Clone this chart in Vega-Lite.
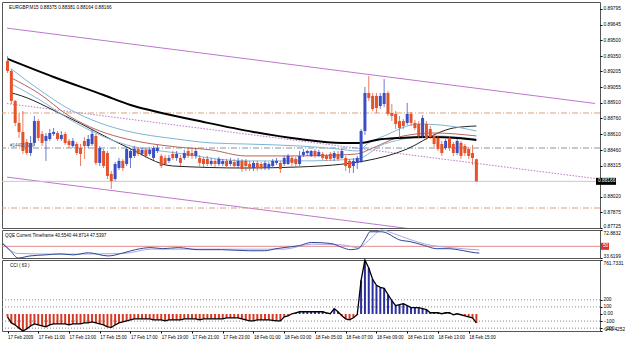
{
  "$schema": "https://vega.github.io/schema/vega-lite/v6.json",
  "padding": {"left": 0, "top": 1, "right": 0, "bottom": 0},
  "background": "white",
  "spacing": 2,
  "bounds": "flush",
  "config": {
    "view": {"stroke": "#555555", "strokeWidth": 1},
    "axis": {"labelFont": "Liberation Sans", "labelFontSize": 4.8, "grid": false, "domain": false, "tickSize": 2, "tickColor": "#000000", "labelColor": "#000000", "labelPadding": 1, "labelOverlap": false},
    "axisY": {"labelFlush": true},
    "axisX": {"labelFlush": false},
    "text": {"font": "Liberation Sans"}
  },
  "datasets": {
    "candles": [
      {"t":"2009-02-17T09:00","o":0.89304,"h":0.89351,"l":0.89190,"c":0.89209,"cci":-40},
      {"t":"2009-02-17T09:15","o":0.89209,"h":0.89228,"l":0.88897,"c":0.88926,"cci":-126},
      {"t":"2009-02-17T09:30","o":0.88926,"h":0.88935,"l":0.88689,"c":0.88718,"cci":-155},
      {"t":"2009-02-17T09:45","o":0.88718,"h":0.88812,"l":0.88576,"c":0.88633,"cci":-200},
      {"t":"2009-02-17T10:00","o":0.88633,"h":0.88831,"l":0.88425,"c":0.88453,"cci":-240.4252},
      {"t":"2009-02-17T10:15","o":0.88538,"h":0.88566,"l":0.88415,"c":0.88434,"cci":-210},
      {"t":"2009-02-17T10:30","o":0.88434,"h":0.88595,"l":0.88406,"c":0.88529,"cci":-169},
      {"t":"2009-02-17T10:45","o":0.88529,"h":0.88784,"l":0.88500,"c":0.88736,"cci":-140},
      {"t":"2009-02-17T11:00","o":0.88736,"h":0.88755,"l":0.88548,"c":0.88576,"cci":-155},
      {"t":"2009-02-17T11:15","o":0.88614,"h":0.88642,"l":0.88500,"c":0.88529,"cci":-169},
      {"t":"2009-02-17T11:30","o":0.88548,"h":0.88623,"l":0.88359,"c":0.88595,"cci":-183},
      {"t":"2009-02-17T11:45","o":0.88566,"h":0.88661,"l":0.88548,"c":0.88623,"cci":-155},
      {"t":"2009-02-17T12:00","o":0.88614,"h":0.88670,"l":0.88595,"c":0.88633,"cci":-140},
      {"t":"2009-02-17T12:15","o":0.88623,"h":0.88642,"l":0.88548,"c":0.88566,"cci":-140},
      {"t":"2009-02-17T12:30","o":0.88566,"h":0.88642,"l":0.88548,"c":0.88604,"cci":-140},
      {"t":"2009-02-17T12:45","o":0.88614,"h":0.88633,"l":0.88510,"c":0.88529,"cci":-140},
      {"t":"2009-02-17T13:00","o":0.88548,"h":0.88566,"l":0.88481,"c":0.88510,"cci":-155},
      {"t":"2009-02-17T13:15","o":0.88500,"h":0.88576,"l":0.88481,"c":0.88548,"cci":-140},
      {"t":"2009-02-17T13:30","o":0.88519,"h":0.88538,"l":0.88415,"c":0.88434,"cci":-140},
      {"t":"2009-02-17T13:45","o":0.88481,"h":0.88519,"l":0.88311,"c":0.88425,"cci":-140},
      {"t":"2009-02-17T14:00","o":0.88548,"h":0.88585,"l":0.88378,"c":0.88500,"cci":-126},
      {"t":"2009-02-17T14:15","o":0.88500,"h":0.88604,"l":0.88481,"c":0.88566,"cci":-126},
      {"t":"2009-02-17T14:30","o":0.88519,"h":0.88661,"l":0.88500,"c":0.88614,"cci":-112},
      {"t":"2009-02-17T14:45","o":0.88595,"h":0.88614,"l":0.88321,"c":0.88340,"cci":-126},
      {"t":"2009-02-17T15:00","o":0.88340,"h":0.88500,"l":0.88311,"c":0.88481,"cci":-140},
      {"t":"2009-02-17T15:15","o":0.88453,"h":0.88472,"l":0.88292,"c":0.88311,"cci":-155},
      {"t":"2009-02-17T15:30","o":0.88434,"h":0.88453,"l":0.88188,"c":0.88217,"cci":-183},
      {"t":"2009-02-17T15:45","o":0.88236,"h":0.88264,"l":0.88094,"c":0.88169,"cci":-190},
      {"t":"2009-02-17T16:00","o":0.88188,"h":0.88349,"l":0.88169,"c":0.88330,"cci":-155},
      {"t":"2009-02-17T16:15","o":0.88292,"h":0.88387,"l":0.88273,"c":0.88359,"cci":-126},
      {"t":"2009-02-17T16:30","o":0.88359,"h":0.88378,"l":0.88264,"c":0.88292,"cci":-112},
      {"t":"2009-02-17T16:45","o":0.88330,"h":0.88491,"l":0.88311,"c":0.88472,"cci":-97},
      {"t":"2009-02-17T17:00","o":0.88387,"h":0.88472,"l":0.88292,"c":0.88453,"cci":-83},
      {"t":"2009-02-17T17:15","o":0.88406,"h":0.88500,"l":0.88387,"c":0.88472,"cci":-69},
      {"t":"2009-02-17T17:30","o":0.88472,"h":0.88491,"l":0.88406,"c":0.88425,"cci":-69},
      {"t":"2009-02-17T17:45","o":0.88425,"h":0.88491,"l":0.88406,"c":0.88463,"cci":-69},
      {"t":"2009-02-17T18:00","o":0.88463,"h":0.88481,"l":0.88387,"c":0.88406,"cci":-69},
      {"t":"2009-02-17T18:15","o":0.88425,"h":0.88491,"l":0.88406,"c":0.88463,"cci":-69},
      {"t":"2009-02-17T18:30","o":0.88387,"h":0.88500,"l":0.88368,"c":0.88481,"cci":-83},
      {"t":"2009-02-17T18:45","o":0.88453,"h":0.88510,"l":0.88434,"c":0.88481,"cci":-83},
      {"t":"2009-02-17T19:00","o":0.88406,"h":0.88425,"l":0.88292,"c":0.88311,"cci":-83},
      {"t":"2009-02-17T19:15","o":0.88387,"h":0.88415,"l":0.88311,"c":0.88330,"cci":-97},
      {"t":"2009-02-17T19:30","o":0.88359,"h":0.88415,"l":0.88340,"c":0.88387,"cci":-83},
      {"t":"2009-02-17T19:45","o":0.88425,"h":0.88453,"l":0.88368,"c":0.88387,"cci":-83},
      {"t":"2009-02-17T20:00","o":0.88387,"h":0.88453,"l":0.88359,"c":0.88425,"cci":-83},
      {"t":"2009-02-17T20:15","o":0.88387,"h":0.88415,"l":0.88311,"c":0.88340,"cci":-83},
      {"t":"2009-02-17T20:30","o":0.88387,"h":0.88463,"l":0.88368,"c":0.88434,"cci":-69},
      {"t":"2009-02-17T20:45","o":0.88453,"h":0.88481,"l":0.88387,"c":0.88406,"cci":-69},
      {"t":"2009-02-17T21:00","o":0.88434,"h":0.88472,"l":0.88378,"c":0.88406,"cci":-69},
      {"t":"2009-02-17T21:15","o":0.88406,"h":0.88481,"l":0.88378,"c":0.88453,"cci":-69},
      {"t":"2009-02-17T21:30","o":0.88387,"h":0.88415,"l":0.88311,"c":0.88340,"cci":-83},
      {"t":"2009-02-17T21:45","o":0.88378,"h":0.88396,"l":0.88302,"c":0.88330,"cci":-69},
      {"t":"2009-02-17T22:00","o":0.88378,"h":0.88406,"l":0.88311,"c":0.88330,"cci":-69},
      {"t":"2009-02-17T22:15","o":0.88330,"h":0.88387,"l":0.88311,"c":0.88359,"cci":-69},
      {"t":"2009-02-17T22:30","o":0.88359,"h":0.88378,"l":0.88302,"c":0.88330,"cci":-69},
      {"t":"2009-02-17T22:45","o":0.88330,"h":0.88396,"l":0.88311,"c":0.88378,"cci":-69},
      {"t":"2009-02-17T23:00","o":0.88330,"h":0.88378,"l":0.88311,"c":0.88359,"cci":-69},
      {"t":"2009-02-17T23:15","o":0.88359,"h":0.88378,"l":0.88292,"c":0.88311,"cci":-54},
      {"t":"2009-02-17T23:30","o":0.88330,"h":0.88387,"l":0.88311,"c":0.88359,"cci":-54},
      {"t":"2009-02-17T23:45","o":0.88349,"h":0.88378,"l":0.88292,"c":0.88311,"cci":-54},
      {"t":"2009-02-18T00:00","o":0.88311,"h":0.88387,"l":0.88292,"c":0.88359,"cci":-54},
      {"t":"2009-02-18T00:15","o":0.88359,"h":0.88378,"l":0.88255,"c":0.88283,"cci":-69},
      {"t":"2009-02-18T00:30","o":0.88359,"h":0.88378,"l":0.88264,"c":0.88311,"cci":-83},
      {"t":"2009-02-18T00:45","o":0.88330,"h":0.88359,"l":0.88264,"c":0.88292,"cci":-97},
      {"t":"2009-02-18T01:00","o":0.88292,"h":0.88359,"l":0.88264,"c":0.88340,"cci":-97},
      {"t":"2009-02-18T01:15","o":0.88340,"h":0.88359,"l":0.88264,"c":0.88292,"cci":-83},
      {"t":"2009-02-18T01:30","o":0.88330,"h":0.88349,"l":0.88273,"c":0.88292,"cci":-83},
      {"t":"2009-02-18T01:45","o":0.88292,"h":0.88359,"l":0.88273,"c":0.88340,"cci":-83},
      {"t":"2009-02-18T02:00","o":0.88292,"h":0.88349,"l":0.88273,"c":0.88330,"cci":-83},
      {"t":"2009-02-18T02:15","o":0.88311,"h":0.88378,"l":0.88292,"c":0.88359,"cci":-90},
      {"t":"2009-02-18T02:30","o":0.88340,"h":0.88387,"l":0.88321,"c":0.88359,"cci":-97},
      {"t":"2009-02-18T02:45","o":0.88340,"h":0.88359,"l":0.88245,"c":0.88283,"cci":-97},
      {"t":"2009-02-18T03:00","o":0.88330,"h":0.88406,"l":0.88311,"c":0.88387,"cci":-40},
      {"t":"2009-02-18T03:15","o":0.88330,"h":0.88425,"l":0.88321,"c":0.88406,"cci":-26},
      {"t":"2009-02-18T03:30","o":0.88387,"h":0.88406,"l":0.88311,"c":0.88340,"cci":3},
      {"t":"2009-02-18T03:45","o":0.88378,"h":0.88396,"l":0.88311,"c":0.88330,"cci":17},
      {"t":"2009-02-18T04:00","o":0.88330,"h":0.88453,"l":0.88311,"c":0.88406,"cci":31},
      {"t":"2009-02-18T04:15","o":0.88415,"h":0.88472,"l":0.88396,"c":0.88444,"cci":31},
      {"t":"2009-02-18T04:30","o":0.88434,"h":0.88463,"l":0.88406,"c":0.88453,"cci":31},
      {"t":"2009-02-18T04:45","o":0.88406,"h":0.88463,"l":0.88396,"c":0.88453,"cci":31},
      {"t":"2009-02-18T05:00","o":0.88453,"h":0.88472,"l":0.88387,"c":0.88406,"cci":31},
      {"t":"2009-02-18T05:15","o":0.88406,"h":0.88463,"l":0.88396,"c":0.88444,"cci":31},
      {"t":"2009-02-18T05:30","o":0.88425,"h":0.88444,"l":0.88368,"c":0.88387,"cci":31},
      {"t":"2009-02-18T05:45","o":0.88406,"h":0.88425,"l":0.88359,"c":0.88378,"cci":17},
      {"t":"2009-02-18T06:00","o":0.88425,"h":0.88444,"l":0.88359,"c":0.88378,"cci":3},
      {"t":"2009-02-18T06:15","o":0.88387,"h":0.88453,"l":0.88359,"c":0.88434,"cci":74},
      {"t":"2009-02-18T06:30","o":0.88425,"h":0.88453,"l":0.88359,"c":0.88378,"cci":31},
      {"t":"2009-02-18T06:45","o":0.88387,"h":0.88472,"l":0.88378,"c":0.88453,"cci":-26},
      {"t":"2009-02-18T07:00","o":0.88387,"h":0.88406,"l":0.88264,"c":0.88311,"cci":-69},
      {"t":"2009-02-18T07:15","o":0.88359,"h":0.88378,"l":0.88245,"c":0.88292,"cci":-83},
      {"t":"2009-02-18T07:30","o":0.88311,"h":0.88387,"l":0.88245,"c":0.88359,"cci":-54},
      {"t":"2009-02-18T07:45","o":0.88340,"h":0.88406,"l":0.88283,"c":0.88387,"cci":-11},
      {"t":"2009-02-18T08:00","o":0.88359,"h":0.88661,"l":0.88340,"c":0.88642,"cci":475},
      {"t":"2009-02-18T08:15","o":0.88642,"h":0.89058,"l":0.88604,"c":0.89001,"cci":761.7331},
      {"t":"2009-02-18T08:30","o":0.89001,"h":0.89162,"l":0.88926,"c":0.88954,"cci":648},
      {"t":"2009-02-18T08:45","o":0.88973,"h":0.89001,"l":0.88831,"c":0.88850,"cci":490},
      {"t":"2009-02-18T09:00","o":0.88973,"h":0.89001,"l":0.88812,"c":0.88859,"cci":404},
      {"t":"2009-02-18T09:15","o":0.88878,"h":0.89001,"l":0.88850,"c":0.88973,"cci":375},
      {"t":"2009-02-18T09:30","o":0.88897,"h":0.89133,"l":0.88869,"c":0.89001,"cci":361},
      {"t":"2009-02-18T09:45","o":0.89001,"h":0.89020,"l":0.88784,"c":0.88803,"cci":275},
      {"t":"2009-02-18T10:00","o":0.88812,"h":0.88897,"l":0.88736,"c":0.88784,"cci":189},
      {"t":"2009-02-18T10:15","o":0.88803,"h":0.88831,"l":0.88661,"c":0.88708,"cci":117},
      {"t":"2009-02-18T10:30","o":0.88736,"h":0.88784,"l":0.88576,"c":0.88670,"cci":132},
      {"t":"2009-02-18T10:45","o":0.88736,"h":0.88755,"l":0.88661,"c":0.88689,"cci":146},
      {"t":"2009-02-18T11:00","o":0.88718,"h":0.88907,"l":0.88699,"c":0.88803,"cci":117},
      {"t":"2009-02-18T11:15","o":0.88803,"h":0.88822,"l":0.88689,"c":0.88718,"cci":89},
      {"t":"2009-02-18T11:30","o":0.88718,"h":0.88746,"l":0.88651,"c":0.88670,"cci":89},
      {"t":"2009-02-18T11:45","o":0.88708,"h":0.88736,"l":0.88576,"c":0.88595,"cci":89},
      {"t":"2009-02-18T12:00","o":0.88595,"h":0.88793,"l":0.88576,"c":0.88765,"cci":74},
      {"t":"2009-02-18T12:15","o":0.88708,"h":0.88736,"l":0.88557,"c":0.88576,"cci":60},
      {"t":"2009-02-18T12:30","o":0.88661,"h":0.88689,"l":0.88566,"c":0.88585,"cci":17},
      {"t":"2009-02-18T12:45","o":0.88595,"h":0.88614,"l":0.88491,"c":0.88519,"cci":17},
      {"t":"2009-02-18T13:00","o":0.88576,"h":0.88595,"l":0.88453,"c":0.88472,"cci":17},
      {"t":"2009-02-18T13:15","o":0.88519,"h":0.88548,"l":0.88406,"c":0.88434,"cci":3},
      {"t":"2009-02-18T13:30","o":0.88481,"h":0.88566,"l":0.88463,"c":0.88548,"cci":17},
      {"t":"2009-02-18T13:45","o":0.88576,"h":0.88595,"l":0.88453,"c":0.88481,"cci":17},
      {"t":"2009-02-18T14:00","o":0.88519,"h":0.88538,"l":0.88406,"c":0.88434,"cci":-11},
      {"t":"2009-02-18T14:15","o":0.88434,"h":0.88566,"l":0.88415,"c":0.88548,"cci":3},
      {"t":"2009-02-18T14:30","o":0.88529,"h":0.88548,"l":0.88378,"c":0.88406,"cci":-11},
      {"t":"2009-02-18T14:45","o":0.88500,"h":0.88519,"l":0.88406,"c":0.88434,"cci":-26},
      {"t":"2009-02-18T15:00","o":0.88472,"h":0.88491,"l":0.88378,"c":0.88406,"cci":-40},
      {"t":"2009-02-18T15:15","o":0.88434,"h":0.88510,"l":0.88321,"c":0.88387,"cci":-54},
      {"t":"2009-02-18T15:30","o":0.88375,"h":0.88381,"l":0.88164,"c":0.88166,"cci":-126}
    ],
    "trend": [
      {"name":"upper","t1":"2009-02-17T08:58","p1":0.89614,"t2":"2009-02-18T23:13","p2":0.88902},
      {"name":"lower","t1":"2009-02-17T08:58","p1":0.88206,"t2":"2009-02-18T23:13","p2":0.87494},
      {"name":"mid","t1":"2009-02-17T08:58","p1":0.88901,"t2":"2009-02-18T23:13","p2":0.88193}
    ],
    "levels": [
      {"name":"tp","p":0.88812},
      {"name":"sl","p":0.87914},
      {"name":"entry","p":0.88481},
      {"name":"bid","p":0.88166}
    ],
    "ma": [
      {"ma":"slow","t":"2009-02-17T09:00","v":0.89323},
      {"ma":"slow","t":"2009-02-17T12:00","v":0.89152},
      {"ma":"slow","t":"2009-02-17T15:15","v":0.88982},
      {"ma":"slow","t":"2009-02-17T17:00","v":0.88888},
      {"ma":"slow","t":"2009-02-17T18:30","v":0.88831},
      {"ma":"slow","t":"2009-02-17T21:45","v":0.88727},
      {"ma":"slow","t":"2009-02-18T01:00","v":0.88633},
      {"ma":"slow","t":"2009-02-18T04:00","v":0.88566},
      {"ma":"slow","t":"2009-02-18T06:45","v":0.88529},
      {"ma":"slow","t":"2009-02-18T08:00","v":0.88529},
      {"ma":"slow","t":"2009-02-18T09:00","v":0.88557},
      {"ma":"slow","t":"2009-02-18T10:30","v":0.88576},
      {"ma":"slow","t":"2009-02-18T12:30","v":0.88585},
      {"ma":"slow","t":"2009-02-18T14:15","v":0.88576},
      {"ma":"slow","t":"2009-02-18T15:30","v":0.88557},
      {"ma":"env","t":"2009-02-17T09:15","v":0.89001},
      {"ma":"env","t":"2009-02-17T09:30","v":0.88992},
      {"ma":"env","t":"2009-02-17T12:45","v":0.88784},
      {"ma":"env","t":"2009-02-17T16:45","v":0.88491},
      {"ma":"env","t":"2009-02-17T19:45","v":0.88311},
      {"ma":"env","t":"2009-02-18T00:30","v":0.88292},
      {"ma":"env","t":"2009-02-18T04:00","v":0.88302},
      {"ma":"env","t":"2009-02-18T08:15","v":0.88359},
      {"ma":"env","t":"2009-02-18T11:00","v":0.88472},
      {"ma":"env","t":"2009-02-18T13:00","v":0.88623},
      {"ma":"env","t":"2009-02-18T14:00","v":0.88670},
      {"ma":"env","t":"2009-02-18T15:30","v":0.88689},
      {"ma":"fast","t":"2009-02-17T09:15","v":0.89228},
      {"ma":"fast","t":"2009-02-17T11:00","v":0.89039},
      {"ma":"fast","t":"2009-02-17T13:00","v":0.88850},
      {"ma":"fast","t":"2009-02-17T15:00","v":0.88718},
      {"ma":"fast","t":"2009-02-17T16:45","v":0.88642},
      {"ma":"fast","t":"2009-02-17T20:00","v":0.88566},
      {"ma":"fast","t":"2009-02-17T22:15","v":0.88529},
      {"ma":"fast","t":"2009-02-18T00:30","v":0.88519},
      {"ma":"fast","t":"2009-02-18T04:00","v":0.88500},
      {"ma":"fast","t":"2009-02-18T06:30","v":0.88472},
      {"ma":"fast","t":"2009-02-18T07:45","v":0.88453},
      {"ma":"fast","t":"2009-02-18T08:30","v":0.88529},
      {"ma":"fast","t":"2009-02-18T09:30","v":0.88595},
      {"ma":"fast","t":"2009-02-18T11:45","v":0.88708},
      {"ma":"fast","t":"2009-02-18T13:45","v":0.88689},
      {"ma":"fast","t":"2009-02-18T15:30","v":0.88642},
      {"ma":"mid","t":"2009-02-17T09:15","v":0.89143},
      {"ma":"mid","t":"2009-02-17T11:00","v":0.89001},
      {"ma":"mid","t":"2009-02-17T13:00","v":0.88784},
      {"ma":"mid","t":"2009-02-17T15:00","v":0.88642},
      {"ma":"mid","t":"2009-02-17T16:45","v":0.88566},
      {"ma":"mid","t":"2009-02-17T20:00","v":0.88491},
      {"ma":"mid","t":"2009-02-17T22:15","v":0.88463},
      {"ma":"mid","t":"2009-02-18T00:30","v":0.88406},
      {"ma":"mid","t":"2009-02-18T04:00","v":0.88406},
      {"ma":"mid","t":"2009-02-18T06:30","v":0.88415},
      {"ma":"mid","t":"2009-02-18T07:45","v":0.88425},
      {"ma":"mid","t":"2009-02-18T08:45","v":0.88481},
      {"ma":"mid","t":"2009-02-18T10:45","v":0.88595},
      {"ma":"mid","t":"2009-02-18T12:45","v":0.88623},
      {"ma":"mid","t":"2009-02-18T15:30","v":0.88595},
      {"ma":"band","t":"2009-02-17T09:15","v":0.89086},
      {"ma":"band","t":"2009-02-17T11:00","v":0.88945},
      {"ma":"band","t":"2009-02-17T13:00","v":0.88755},
      {"ma":"band","t":"2009-02-17T15:00","v":0.88604},
      {"ma":"band","t":"2009-02-17T16:45","v":0.88510},
      {"ma":"band","t":"2009-02-17T20:00","v":0.88434},
      {"ma":"band","t":"2009-02-18T00:30","v":0.88359},
      {"ma":"band","t":"2009-02-18T04:00","v":0.88359},
      {"ma":"band","t":"2009-02-18T07:45","v":0.88378},
      {"ma":"band","t":"2009-02-18T09:30","v":0.88519},
      {"ma":"band","t":"2009-02-18T12:45","v":0.88595},
      {"ma":"band","t":"2009-02-18T15:30","v":0.88566}
    ],
    "qqe": [
      {"line":"sig","t":"2009-02-17T09:00","v":55},
      {"line":"sig","t":"2009-02-17T10:00","v":40},
      {"line":"sig","t":"2009-02-17T12:45","v":39},
      {"line":"sig","t":"2009-02-17T16:45","v":40},
      {"line":"sig","t":"2009-02-17T18:30","v":46},
      {"line":"sig","t":"2009-02-17T23:00","v":46},
      {"line":"sig","t":"2009-02-18T03:00","v":46},
      {"line":"sig","t":"2009-02-18T04:45","v":53},
      {"line":"sig","t":"2009-02-18T06:45","v":52},
      {"line":"sig","t":"2009-02-18T07:45","v":48},
      {"line":"sig","t":"2009-02-18T08:30","v":60},
      {"line":"sig","t":"2009-02-18T09:15","v":72.8832},
      {"line":"sig","t":"2009-02-18T10:00","v":68},
      {"line":"sig","t":"2009-02-18T11:00","v":60},
      {"line":"sig","t":"2009-02-18T12:30","v":51},
      {"line":"sig","t":"2009-02-18T13:45","v":48},
      {"line":"sig","t":"2009-02-18T15:30","v":44.8714},
      {"line":"qqe","t":"2009-02-17T09:00","v":53.97},
      {"line":"qqe","t":"2009-02-17T09:30","v":43.8},
      {"line":"qqe","t":"2009-02-17T10:00","v":33.62},
      {"line":"qqe","t":"2009-02-17T10:45","v":36.5},
      {"line":"qqe","t":"2009-02-17T11:45","v":38.0},
      {"line":"qqe","t":"2009-02-17T12:45","v":39.4},
      {"line":"qqe","t":"2009-02-17T13:30","v":38.0},
      {"line":"qqe","t":"2009-02-17T14:30","v":40.9},
      {"line":"qqe","t":"2009-02-17T15:45","v":36.5},
      {"line":"qqe","t":"2009-02-17T16:45","v":40.9},
      {"line":"qqe","t":"2009-02-17T17:30","v":45.3},
      {"line":"qqe","t":"2009-02-17T18:30","v":48.2},
      {"line":"qqe","t":"2009-02-17T19:15","v":46.7},
      {"line":"qqe","t":"2009-02-17T20:15","v":48.2},
      {"line":"qqe","t":"2009-02-17T21:30","v":45.3},
      {"line":"qqe","t":"2009-02-17T23:00","v":45.3},
      {"line":"qqe","t":"2009-02-18T00:45","v":43.8},
      {"line":"qqe","t":"2009-02-18T01:45","v":43.8},
      {"line":"qqe","t":"2009-02-18T02:30","v":46.7},
      {"line":"qqe","t":"2009-02-18T03:00","v":48.2},
      {"line":"qqe","t":"2009-02-18T04:00","v":51.1},
      {"line":"qqe","t":"2009-02-18T04:45","v":55.4},
      {"line":"qqe","t":"2009-02-18T06:00","v":54.0},
      {"line":"qqe","t":"2009-02-18T06:45","v":48.2},
      {"line":"qqe","t":"2009-02-18T07:15","v":45.3},
      {"line":"qqe","t":"2009-02-18T07:45","v":46.7},
      {"line":"qqe","t":"2009-02-18T08:15","v":62.0},
      {"line":"qqe","t":"2009-02-18T08:30","v":70.4},
      {"line":"qqe","t":"2009-02-18T09:15","v":70.4},
      {"line":"qqe","t":"2009-02-18T10:30","v":58.3},
      {"line":"qqe","t":"2009-02-18T11:00","v":56.9},
      {"line":"qqe","t":"2009-02-18T12:00","v":51.1},
      {"line":"qqe","t":"2009-02-18T12:45","v":46.7},
      {"line":"qqe","t":"2009-02-18T13:30","v":46.7},
      {"line":"qqe","t":"2009-02-18T14:30","v":43.8},
      {"line":"qqe","t":"2009-02-18T15:15","v":40.9},
      {"line":"qqe","t":"2009-02-18T15:30","v":40.554}
    ],
    "cciLevels": [{"lv":200},{"lv":100},{"lv":-100},{"lv":-200}]
  },
  "vconcat": [
    {
      "width": 598,
      "height": 226,
      "layer": [
        {
          "data": {"name": "trend"},
          "transform": [{"filter": "datum.name != 'mid'"}],
          "mark": {"type": "rule", "stroke": "#BC78CC", "strokeWidth": 1, "clip": true},
          "encoding": {
            "x": {"field": "t1", "type": "temporal", "scale": {"domain": [{"year":2009,"month":2,"date":17,"hours":8,"minutes":58},{"year":2009,"month":2,"date":18,"hours":23,"minutes":13}]}, "axis": null},
            "x2": {"field": "t2"},
            "y": {"field": "p1", "type": "quantitative", "scale": {"domain": [0.87725, 0.89861], "nice": false, "zero": false},
              "axis": {"orient": "right", "title": null, "values": [0.89795, 0.89645, 0.895, 0.8935, 0.89205, 0.89055, 0.8891, 0.8876, 0.8861, 0.8846, 0.88315, 0.8802, 0.87875, 0.87725], "format": ".5f"}},
            "y2": {"field": "p2"}
          }
        },
        {
          "data": {"name": "trend"},
          "transform": [{"filter": "datum.name == 'mid'"}],
          "mark": {"type": "rule", "stroke": "#BC78CC", "strokeWidth": 1, "strokeDash": [1.5, 1.5], "clip": true},
          "encoding": {
            "x": {"field": "t1", "type": "temporal", "scale": {"domain": [{"year":2009,"month":2,"date":17,"hours":8,"minutes":58},{"year":2009,"month":2,"date":18,"hours":23,"minutes":13}]}, "axis": null},
            "x2": {"field": "t2"},
            "y": {"field": "p1", "type": "quantitative", "scale": {"domain": [0.87725, 0.89861], "nice": false, "zero": false},
              "axis": {"orient": "right", "title": null, "values": [0.89795, 0.89645, 0.895, 0.8935, 0.89205, 0.89055, 0.8891, 0.8876, 0.8861, 0.8846, 0.88315, 0.8802, 0.87875, 0.87725], "format": ".5f"}},
            "y2": {"field": "p2"}
          }
        },
        {
          "data": {"name": "levels"},
          "transform": [{"filter": "datum.name == 'tp' || datum.name == 'sl'"}],
          "mark": {"type": "rule", "stroke": "#D9A27C", "strokeWidth": 1, "strokeDash": [6, 2, 1, 2]},
          "encoding": {
            "y": {"field": "p", "type": "quantitative", "scale": {"domain": [0.87725, 0.89861], "nice": false, "zero": false},
              "axis": {"orient": "right", "title": null, "values": [0.89795, 0.89645, 0.895, 0.8935, 0.89205, 0.89055, 0.8891, 0.8876, 0.8861, 0.8846, 0.88315, 0.8802, 0.87875, 0.87725], "format": ".5f"}}
          }
        },
        {
          "data": {"name": "levels"},
          "transform": [{"filter": "datum.name == 'entry'"}],
          "mark": {"type": "rule", "stroke": "#8494A8", "strokeWidth": 1, "strokeDash": [6, 2, 1, 2]},
          "encoding": {
            "y": {"field": "p", "type": "quantitative", "scale": {"domain": [0.87725, 0.89861], "nice": false, "zero": false},
              "axis": {"orient": "right", "title": null, "values": [0.89795, 0.89645, 0.895, 0.8935, 0.89205, 0.89055, 0.8891, 0.8876, 0.8861, 0.8846, 0.88315, 0.8802, 0.87875, 0.87725], "format": ".5f"}}
          }
        },
        {
          "data": {"name": "levels"},
          "transform": [{"filter": "datum.name == 'bid'"}],
          "mark": {"type": "rule", "stroke": "#C8C8C8", "strokeWidth": 1},
          "encoding": {
            "y": {"field": "p", "type": "quantitative", "scale": {"domain": [0.87725, 0.89861], "nice": false, "zero": false},
              "axis": {"orient": "right", "title": null, "values": [0.89795, 0.89645, 0.895, 0.8935, 0.89205, 0.89055, 0.8891, 0.8876, 0.8861, 0.8846, 0.88315, 0.8802, 0.87875, 0.87725], "format": ".5f"}}
          }
        },
        {
          "data": {"name": "ma"},
          "transform": [{"filter": "datum.ma != 'slow'"}],
          "mark": {"type": "line", "strokeWidth": 1, "interpolate": "monotone"},
          "encoding": {
            "x": {"field": "t", "type": "temporal", "scale": {"domain": [{"year":2009,"month":2,"date":17,"hours":8,"minutes":58},{"year":2009,"month":2,"date":18,"hours":23,"minutes":13}]}, "axis": null},
            "y": {"field": "v", "type": "quantitative", "scale": {"domain": [0.87725, 0.89861], "nice": false, "zero": false},
              "axis": {"orient": "right", "title": null, "values": [0.89795, 0.89645, 0.895, 0.8935, 0.89205, 0.89055, 0.8891, 0.8876, 0.8861, 0.8846, 0.88315, 0.8802, 0.87875, 0.87725], "format": ".5f"}},
            "color": {"field": "ma", "type": "nominal", "scale": {"domain": ["fast", "mid", "band", "env"], "range": ["#7DB4D6", "#B5665C", "#86BAD8", "#222222"]}, "legend": null}
          }
        },
        {
          "data": {"name": "ma"},
          "transform": [{"filter": "datum.ma == 'slow'"}],
          "mark": {"type": "line", "strokeWidth": 2, "color": "#000000", "interpolate": "monotone"},
          "encoding": {
            "x": {"field": "t", "type": "temporal", "scale": {"domain": [{"year":2009,"month":2,"date":17,"hours":8,"minutes":58},{"year":2009,"month":2,"date":18,"hours":23,"minutes":13}]}, "axis": null},
            "y": {"field": "v", "type": "quantitative", "scale": {"domain": [0.87725, 0.89861], "nice": false, "zero": false},
              "axis": {"orient": "right", "title": null, "values": [0.89795, 0.89645, 0.895, 0.8935, 0.89205, 0.89055, 0.8891, 0.8876, 0.8861, 0.8846, 0.88315, 0.8802, 0.87875, 0.87725], "format": ".5f"}}
          }
        },
        {
          "data": {"name": "candles"},
          "mark": {"type": "rule", "strokeWidth": 1, "opacity": 0.75},
          "encoding": {
            "x": {"field": "t", "type": "temporal", "scale": {"domain": [{"year":2009,"month":2,"date":17,"hours":8,"minutes":58},{"year":2009,"month":2,"date":18,"hours":23,"minutes":13}]}, "axis": null},
            "y": {"field": "l", "type": "quantitative", "scale": {"domain": [0.87725, 0.89861], "nice": false, "zero": false},
              "axis": {"orient": "right", "title": null, "values": [0.89795, 0.89645, 0.895, 0.8935, 0.89205, 0.89055, 0.8891, 0.8876, 0.8861, 0.8846, 0.88315, 0.8802, 0.87875, 0.87725], "format": ".5f"}},
            "y2": {"field": "h"},
            "color": {"condition": {"test": "datum.c < datum.o", "value": "#E4532B"}, "value": "#3B4FC4"}
          }
        },
        {
          "data": {"name": "candles"},
          "mark": {"type": "bar", "size": 3},
          "encoding": {
            "x": {"field": "t", "type": "temporal", "scale": {"domain": [{"year":2009,"month":2,"date":17,"hours":8,"minutes":58},{"year":2009,"month":2,"date":18,"hours":23,"minutes":13}]}, "axis": null},
            "y": {"field": "o", "type": "quantitative", "scale": {"domain": [0.87725, 0.89861], "nice": false, "zero": false},
              "axis": {"orient": "right", "title": null, "values": [0.89795, 0.89645, 0.895, 0.8935, 0.89205, 0.89055, 0.8891, 0.8876, 0.8861, 0.8846, 0.88315, 0.8802, 0.87875, 0.87725], "format": ".5f"}},
            "y2": {"field": "c"},
            "color": {"condition": {"test": "datum.c < datum.o", "value": "#E4532B"}, "value": "#3B4FC4"}
          }
        },
        {
          "data": {"values": [{}]},
          "mark": {"type": "text", "align": "left", "baseline": "top", "dx": 2, "dy": 3, "fontSize": 4.7, "color": "#000000"},
          "encoding": {
            "x": {"datum": {"year":2009,"month":2,"date":17,"hours":8,"minutes":58}, "type": "temporal", "scale": {"domain": [{"year":2009,"month":2,"date":17,"hours":8,"minutes":58},{"year":2009,"month":2,"date":18,"hours":23,"minutes":13}]}, "axis": null},
            "y": {"datum": 0.89861, "type": "quantitative", "scale": {"domain": [0.87725, 0.89861], "nice": false, "zero": false},
              "axis": {"orient": "right", "title": null, "values": [0.89795, 0.89645, 0.895, 0.8935, 0.89205, 0.89055, 0.8891, 0.8876, 0.8861, 0.8846, 0.88315, 0.8802, 0.87875, 0.87725], "format": ".5f"}},
            "text": {"value": "EURGBP,M15  0.88375 0.88381 0.88164 0.88166"}
          }
        },
        {
          "data": {"values": [{}]},
          "mark": {"type": "text", "align": "left", "baseline": "bottom", "dx": 3, "dy": 0, "fontSize": 4.5, "color": "#555555"},
          "encoding": {
            "x": {"datum": {"year":2009,"month":2,"date":17,"hours":8,"minutes":58}, "type": "temporal", "scale": {"domain": [{"year":2009,"month":2,"date":17,"hours":8,"minutes":58},{"year":2009,"month":2,"date":18,"hours":23,"minutes":13}]}, "axis": null},
            "y": {"datum": 0.88481, "type": "quantitative", "scale": {"domain": [0.87725, 0.89861], "nice": false, "zero": false},
              "axis": {"orient": "right", "title": null, "values": [0.89795, 0.89645, 0.895, 0.8935, 0.89205, 0.89055, 0.8891, 0.8876, 0.8861, 0.8846, 0.88315, 0.8802, 0.87875, 0.87725], "format": ".5f"}},
            "text": {"value": "#14495 Sell"}
          }
        },
        {
          "data": {"values": [{}]},
          "mark": {"type": "rect", "color": "#000000", "xOffset": 1, "x2Offset": 21, "yOffset": -3.5, "y2Offset": 3.5},
          "encoding": {
            "x": {"datum": {"year":2009,"month":2,"date":18,"hours":23,"minutes":13}, "type": "temporal", "scale": {"domain": [{"year":2009,"month":2,"date":17,"hours":8,"minutes":58},{"year":2009,"month":2,"date":18,"hours":23,"minutes":13}]}, "axis": null},
            "x2": {"datum": {"year":2009,"month":2,"date":18,"hours":23,"minutes":13}},
            "y": {"datum": 0.88166, "type": "quantitative", "scale": {"domain": [0.87725, 0.89861], "nice": false, "zero": false},
              "axis": {"orient": "right", "title": null, "values": [0.89795, 0.89645, 0.895, 0.8935, 0.89205, 0.89055, 0.8891, 0.8876, 0.8861, 0.8846, 0.88315, 0.8802, 0.87875, 0.87725], "format": ".5f"}},
            "y2": {"datum": 0.88166}
          }
        },
        {
          "data": {"values": [{}]},
          "mark": {"type": "text", "align": "left", "baseline": "middle", "dx": 3, "fontSize": 4.8, "color": "#FFFFFF"},
          "encoding": {
            "x": {"datum": {"year":2009,"month":2,"date":18,"hours":23,"minutes":13}, "type": "temporal", "scale": {"domain": [{"year":2009,"month":2,"date":17,"hours":8,"minutes":58},{"year":2009,"month":2,"date":18,"hours":23,"minutes":13}]}, "axis": null},
            "y": {"datum": 0.88166, "type": "quantitative", "scale": {"domain": [0.87725, 0.89861], "nice": false, "zero": false},
              "axis": {"orient": "right", "title": null, "values": [0.89795, 0.89645, 0.895, 0.8935, 0.89205, 0.89055, 0.8891, 0.8876, 0.8861, 0.8846, 0.88315, 0.8802, 0.87875, 0.87725], "format": ".5f"}},
            "text": {"value": "0.88166"}
          }
        }
      ]
    },
    {
      "width": 598,
      "height": 28,
      "layer": [
        {
          "data": {"values": [{}]},
          "mark": {"type": "rule", "stroke": "#E28A8A", "strokeWidth": 1},
          "encoding": {
            "y": {"datum": 50, "type": "quantitative", "scale": {"domain": [33.6199, 72.8832], "nice": false, "zero": false},
              "axis": {"orient": "right", "title": null, "values": [72.8832, 33.6199], "format": ".4f"}}
          }
        },
        {
          "data": {"name": "qqe"},
          "transform": [{"filter": "datum.line == 'sig'"}],
          "mark": {"type": "line", "stroke": "#A8A8E6", "strokeWidth": 1, "interpolate": "monotone"},
          "encoding": {
            "x": {"field": "t", "type": "temporal", "scale": {"domain": [{"year":2009,"month":2,"date":17,"hours":8,"minutes":58},{"year":2009,"month":2,"date":18,"hours":23,"minutes":13}]}, "axis": null},
            "y": {"field": "v", "type": "quantitative", "scale": {"domain": [33.6199, 72.8832], "nice": false, "zero": false},
              "axis": {"orient": "right", "title": null, "values": [72.8832, 33.6199], "format": ".4f"}}
          }
        },
        {
          "data": {"name": "qqe"},
          "transform": [{"filter": "datum.line == 'qqe'"}],
          "mark": {"type": "line", "stroke": "#2C4795", "strokeWidth": 1, "interpolate": "monotone"},
          "encoding": {
            "x": {"field": "t", "type": "temporal", "scale": {"domain": [{"year":2009,"month":2,"date":17,"hours":8,"minutes":58},{"year":2009,"month":2,"date":18,"hours":23,"minutes":13}]}, "axis": null},
            "y": {"field": "v", "type": "quantitative", "scale": {"domain": [33.6199, 72.8832], "nice": false, "zero": false},
              "axis": {"orient": "right", "title": null, "values": [72.8832, 33.6199], "format": ".4f"}}
          }
        },
        {
          "data": {"values": [{}]},
          "mark": {"type": "text", "align": "left", "baseline": "top", "dx": 3, "dy": 3, "fontSize": 4.5, "color": "#000000"},
          "encoding": {
            "x": {"datum": {"year":2009,"month":2,"date":17,"hours":8,"minutes":58}, "type": "temporal", "scale": {"domain": [{"year":2009,"month":2,"date":17,"hours":8,"minutes":58},{"year":2009,"month":2,"date":18,"hours":23,"minutes":13}]}, "axis": null},
            "y": {"datum": 72.8832, "type": "quantitative", "scale": {"domain": [33.6199, 72.8832], "nice": false, "zero": false},
              "axis": {"orient": "right", "title": null, "values": [72.8832, 33.6199], "format": ".4f"}},
            "text": {"value": "QQE Current Timeframe 40.5540 44.8714 47.5397"}
          }
        },
        {
          "data": {"values": [{}]},
          "mark": {"type": "rect", "color": "#E03030", "xOffset": 1, "x2Offset": 9, "yOffset": -3.5, "y2Offset": 3.5},
          "encoding": {
            "x": {"datum": {"year":2009,"month":2,"date":18,"hours":23,"minutes":13}, "type": "temporal", "scale": {"domain": [{"year":2009,"month":2,"date":17,"hours":8,"minutes":58},{"year":2009,"month":2,"date":18,"hours":23,"minutes":13}]}, "axis": null},
            "x2": {"datum": {"year":2009,"month":2,"date":18,"hours":23,"minutes":13}},
            "y": {"datum": 50, "type": "quantitative", "scale": {"domain": [33.6199, 72.8832], "nice": false, "zero": false},
              "axis": {"orient": "right", "title": null, "values": [72.8832, 33.6199], "format": ".4f"}},
            "y2": {"datum": 50}
          }
        },
        {
          "data": {"values": [{}]},
          "mark": {"type": "text", "align": "left", "baseline": "middle", "dx": 3, "fontSize": 4.7, "color": "#FFFFFF"},
          "encoding": {
            "x": {"datum": {"year":2009,"month":2,"date":18,"hours":23,"minutes":13}, "type": "temporal", "scale": {"domain": [{"year":2009,"month":2,"date":17,"hours":8,"minutes":58},{"year":2009,"month":2,"date":18,"hours":23,"minutes":13}]}, "axis": null},
            "y": {"datum": 50, "type": "quantitative", "scale": {"domain": [33.6199, 72.8832], "nice": false, "zero": false},
              "axis": {"orient": "right", "title": null, "values": [72.8832, 33.6199], "format": ".4f"}},
            "text": {"value": "50"}
          }
        }
      ]
    },
    {
      "width": 598,
      "height": 71,
      "layer": [
        {
          "data": {"name": "cciLevels"},
          "mark": {"type": "rule", "stroke": "#888888", "strokeWidth": 1, "strokeDash": [1, 2]},
          "encoding": {
            "y": {"field": "lv", "type": "quantitative", "scale": {"domain": [-240.4252, 761.7331], "nice": false, "zero": false},
              "axis": {"orient": "right", "title": null, "values": [761.7331, 200, 100, 0, -100, -200, -240.4252], "labelOverlap": false,
                "labelExpr": "datum.value == 761.7331 ? '761.7331' : datum.value == -240.4252 ? '-240.4252' : datum.value == 0 ? '0.00' : format(datum.value, 'd')"}}
          }
        },
        {
          "data": {"name": "candles"},
          "mark": {"type": "bar", "size": 2},
          "encoding": {
            "x": {"field": "t", "type": "temporal", "scale": {"domain": [{"year":2009,"month":2,"date":17,"hours":8,"minutes":58},{"year":2009,"month":2,"date":18,"hours":23,"minutes":13}]},
              "axis": {"orient": "bottom", "title": null, "values": [
                {"year":2009,"month":2,"date":17,"hours":9},{"year":2009,"month":2,"date":17,"hours":11},{"year":2009,"month":2,"date":17,"hours":13},{"year":2009,"month":2,"date":17,"hours":15},
                {"year":2009,"month":2,"date":17,"hours":17},{"year":2009,"month":2,"date":17,"hours":19},{"year":2009,"month":2,"date":17,"hours":21},{"year":2009,"month":2,"date":17,"hours":23},
                {"year":2009,"month":2,"date":18,"hours":1},{"year":2009,"month":2,"date":18,"hours":3},{"year":2009,"month":2,"date":18,"hours":5},{"year":2009,"month":2,"date":18,"hours":7},
                {"year":2009,"month":2,"date":18,"hours":9},{"year":2009,"month":2,"date":18,"hours":11},{"year":2009,"month":2,"date":18,"hours":13},{"year":2009,"month":2,"date":18,"hours":15}],
                "labelExpr": "date(datum.value) == 17 && hours(datum.value) == 9 ? '17 Feb 2009' : timeFormat(datum.value, '%d %b %H:%M')",
                "labelAlign": "left", "labelFontSize": 4.5}},
            "y": {"field": "cci", "type": "quantitative", "scale": {"domain": [-240.4252, 761.7331], "nice": false, "zero": false},
              "axis": {"orient": "right", "title": null, "values": [761.7331, 200, 100, 0, -100, -200, -240.4252], "labelOverlap": false,
                "labelExpr": "datum.value == 761.7331 ? '761.7331' : datum.value == -240.4252 ? '-240.4252' : datum.value == 0 ? '0.00' : format(datum.value, 'd')"}},
            "y2": {"datum": 0},
            "color": {"condition": {"test": "datum.cci < 0", "value": "#D63A26"}, "value": "#2B2F9E"}
          }
        },
        {
          "data": {"name": "candles"},
          "mark": {"type": "line", "stroke": "#000000", "strokeWidth": 1.3},
          "encoding": {
            "x": {"field": "t", "type": "temporal", "scale": {"domain": [{"year":2009,"month":2,"date":17,"hours":8,"minutes":58},{"year":2009,"month":2,"date":18,"hours":23,"minutes":13}]},
              "axis": {"orient": "bottom", "title": null, "values": [
                {"year":2009,"month":2,"date":17,"hours":9},{"year":2009,"month":2,"date":17,"hours":11},{"year":2009,"month":2,"date":17,"hours":13},{"year":2009,"month":2,"date":17,"hours":15},
                {"year":2009,"month":2,"date":17,"hours":17},{"year":2009,"month":2,"date":17,"hours":19},{"year":2009,"month":2,"date":17,"hours":21},{"year":2009,"month":2,"date":17,"hours":23},
                {"year":2009,"month":2,"date":18,"hours":1},{"year":2009,"month":2,"date":18,"hours":3},{"year":2009,"month":2,"date":18,"hours":5},{"year":2009,"month":2,"date":18,"hours":7},
                {"year":2009,"month":2,"date":18,"hours":9},{"year":2009,"month":2,"date":18,"hours":11},{"year":2009,"month":2,"date":18,"hours":13},{"year":2009,"month":2,"date":18,"hours":15}],
                "labelExpr": "date(datum.value) == 17 && hours(datum.value) == 9 ? '17 Feb 2009' : timeFormat(datum.value, '%d %b %H:%M')",
                "labelAlign": "left", "labelFontSize": 4.5}},
            "y": {"field": "cci", "type": "quantitative", "scale": {"domain": [-240.4252, 761.7331], "nice": false, "zero": false},
              "axis": {"orient": "right", "title": null, "values": [761.7331, 200, 100, 0, -100, -200, -240.4252], "labelOverlap": false,
                "labelExpr": "datum.value == 761.7331 ? '761.7331' : datum.value == -240.4252 ? '-240.4252' : datum.value == 0 ? '0.00' : format(datum.value, 'd')"}}
          }
        },
        {
          "data": {"values": [{}]},
          "mark": {"type": "text", "align": "left", "baseline": "top", "dx": 3, "dy": 3, "fontSize": 4.5, "color": "#000000"},
          "encoding": {
            "x": {"datum": {"year":2009,"month":2,"date":17,"hours":8,"minutes":58}, "type": "temporal", "scale": {"domain": [{"year":2009,"month":2,"date":17,"hours":8,"minutes":58},{"year":2009,"month":2,"date":18,"hours":23,"minutes":13}]},
              "axis": {"orient": "bottom", "title": null, "values": [
                {"year":2009,"month":2,"date":17,"hours":9},{"year":2009,"month":2,"date":17,"hours":11},{"year":2009,"month":2,"date":17,"hours":13},{"year":2009,"month":2,"date":17,"hours":15},
                {"year":2009,"month":2,"date":17,"hours":17},{"year":2009,"month":2,"date":17,"hours":19},{"year":2009,"month":2,"date":17,"hours":21},{"year":2009,"month":2,"date":17,"hours":23},
                {"year":2009,"month":2,"date":18,"hours":1},{"year":2009,"month":2,"date":18,"hours":3},{"year":2009,"month":2,"date":18,"hours":5},{"year":2009,"month":2,"date":18,"hours":7},
                {"year":2009,"month":2,"date":18,"hours":9},{"year":2009,"month":2,"date":18,"hours":11},{"year":2009,"month":2,"date":18,"hours":13},{"year":2009,"month":2,"date":18,"hours":15}],
                "labelExpr": "date(datum.value) == 17 && hours(datum.value) == 9 ? '17 Feb 2009' : timeFormat(datum.value, '%d %b %H:%M')",
                "labelAlign": "left", "labelFontSize": 4.5}},
            "y": {"datum": 761.7331, "type": "quantitative", "scale": {"domain": [-240.4252, 761.7331], "nice": false, "zero": false},
              "axis": {"orient": "right", "title": null, "values": [761.7331, 200, 100, 0, -100, -200, -240.4252], "labelOverlap": false,
                "labelExpr": "datum.value == 761.7331 ? '761.7331' : datum.value == -240.4252 ? '-240.4252' : datum.value == 0 ? '0.00' : format(datum.value, 'd')"}},
            "text": {"value": "CCI  ( 63 )"}
          }
        }
      ]
    }
  ]
}
